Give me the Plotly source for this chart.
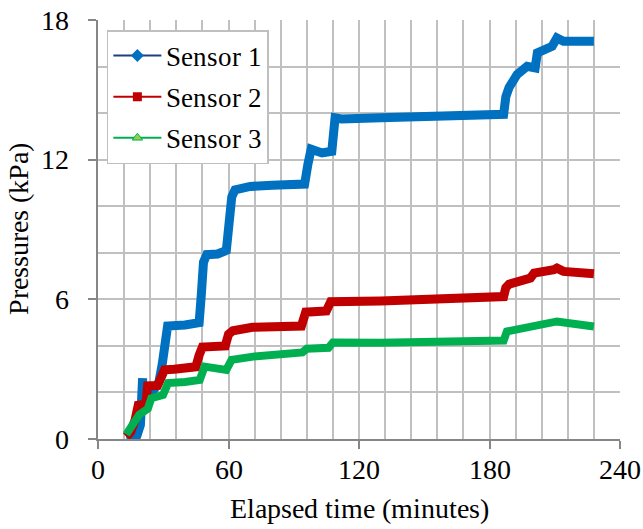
import base64
import glob
import os
import subprocess

import plotly.graph_objects as go

# Sensor 1 (blue)
t1 = [13, 16, 18, 19.5, 20.5, 20.7, 22, 25, 28, 29.5, 31, 32, 40, 46.5, 47.5, 48.5, 50, 55, 59, 60,
      61.5, 63, 70, 80, 95, 96.5, 98, 103, 107.5, 109, 112, 130, 150, 170, 186.5, 187.5, 189,
      192.7, 197.3, 201, 202, 208.8, 211, 214, 228]
p1 = [0.05, 0.1, 0.17, 0.6, 2.61, 1.55, 1.6, 2.1, 2.45, 3.2, 4.5, 4.85, 4.9, 5.0, 6.2, 7.6, 7.92, 7.95, 8.1, 9.2,
      10.4, 10.7, 10.85, 10.9, 10.95, 11.8, 12.45, 12.29, 12.36, 13.8, 13.75, 13.8, 13.85, 13.9, 13.95, 14.7, 15.1,
      15.66, 16.01, 15.94, 16.59, 16.87, 17.23, 17.09, 17.09]

# Sensor 2 (red)
t2 = [13, 15, 17, 18.5, 22, 22.8, 27.4, 29, 30.6, 35, 45, 46.5, 48, 58.5, 60, 62, 71, 93.5, 95.5,
      105, 107, 130, 150, 170, 186.5, 187.5, 189, 198.8, 200.5, 209.6, 211, 214, 228]
p2 = [0.1, 0.3, 0.8, 1.45, 1.5, 2.28, 2.3, 2.75, 2.97, 3.0, 3.1, 3.6, 3.95, 4.0, 4.5, 4.65, 4.8, 4.85, 5.45,
      5.5, 5.9, 5.93, 5.98, 6.05, 6.12, 6.5, 6.65, 6.91, 7.13, 7.27, 7.34, 7.2, 7.1]

# Sensor 3 (green)
t3 = [13, 14.5, 16.8, 19, 22.9, 24.5, 29.9, 31, 32.2, 40, 46.8, 49, 55, 59, 61.4, 71.3, 94, 96,
      106, 108, 130, 150, 170, 186.5, 188, 198.8, 201.9, 211, 228]
p3 = [0.2, 0.39, 0.82, 1.05, 1.3, 1.75, 1.89, 2.2, 2.4, 2.45, 2.54, 3.11, 3.0, 2.97, 3.4, 3.54, 3.72, 3.88,
      3.92, 4.15, 4.13, 4.18, 4.2, 4.23, 4.62, 4.83, 4.9, 5.05, 4.83]

names = ["Sensor 1", "Sensor 2", "Sensor 3"]
x_ticks = [0, 60, 120, 180, 240]
y_ticks = [0, 6, 12, 18]

FONT = "Liberation Serif"
blue, red, green = "#0070C0", "#C00000", "#00B050"


def find_font_file():
    pats = ["/usr/share/fonts/**/LiberationSerif-Regular.ttf",
            "/usr/local/share/fonts/**/LiberationSerif-Regular.ttf",
            os.path.expanduser("~/.fonts/**/LiberationSerif-Regular.ttf"),
            os.path.expanduser("~/.local/share/fonts/**/LiberationSerif-Regular.ttf")]
    for p in pats:
        hits = glob.glob(p, recursive=True)
        if hits:
            return hits[0]
    try:
        out = subprocess.run(["fc-match", "-f", "%{file}", "Liberation Serif"],
                             capture_output=True, text=True, timeout=10).stdout.strip()
        if out and os.path.exists(out) and "Serif" in out:
            return out
    except Exception:
        pass
    return None


font_b64 = ""
ff_path = find_font_file()
if ff_path:
    with open(ff_path, "rb") as fh:
        font_b64 = base64.b64encode(fh.read()).decode("ascii")

fig = go.Figure()
for t, p, c, w in [(t1, p1, blue, 9), (t2, p2, red, 9), (t3, p3, green, 8)]:
    fig.add_trace(go.Scatter(x=t, y=p, mode="lines", line=dict(color=c, width=w),
                             showlegend=False, hoverinfo="skip"))

leg = [
    (names[0], dict(color="#1F3F7A", width=2), dict(symbol="diamond", size=10, color=blue)),
    (names[1], dict(color=red, width=2), dict(symbol="square", size=9, color=red)),
    (names[2], dict(color=green, width=2), dict(symbol="triangle-up", size=9, color="#92D050",
                                                line=dict(color=green, width=1))),
]
for i, (n, ln, mk) in enumerate(leg):
    fig.add_trace(go.Scatter(x=[None], y=[None], mode="lines+markers", name=n, line=ln, marker=mk,
                             legendgroup=f"g{i}"))

grid = "#C0C0C0"
axline = "#868686"
fig.update_layout(
    width=643, height=529,
    margin=dict(l=98, r=23, t=20, b=90, autoexpand=False),
    paper_bgcolor="white", plot_bgcolor="white",
    font=dict(family=FONT, color="black", size=28),
    legend=dict(x=0.017, y=0.976, xanchor="left", yanchor="top",
                bgcolor="white", bordercolor="#BFBFBF", borderwidth=1.5,
                font=dict(size=27), itemwidth=48,
                tracegroupgap=3, traceorder="grouped"),
    xaxis=dict(range=[0, 240], tickvals=x_ticks, ticktext=[str(v) for v in x_ticks],
               automargin=False,
               showgrid=True, gridcolor=grid, gridwidth=1.5,
               minor=dict(dtick=12, showgrid=True, gridcolor=grid, gridwidth=1.5),
               showline=True, linecolor=axline, linewidth=1.5,
               ticks="outside", ticklen=8, tickcolor=axline, tickwidth=1.5,
               tickfont=dict(size=28), ticklabelstandoff=-3, zeroline=False,
               title=dict(text="Elapsed time (minutes)", font=dict(size=28), standoff=14)),
    yaxis=dict(range=[0, 18], tickvals=y_ticks, ticktext=[str(v) for v in y_ticks],
               automargin=False,
               showgrid=True, gridcolor=grid, gridwidth=1.5,
               minor=dict(dtick=2, showgrid=True, gridcolor=grid, gridwidth=1.5),
               showline=True, linecolor=axline, linewidth=1.5,
               ticks="outside", ticklen=8, tickcolor=axline, tickwidth=1.5,
               tickfont=dict(size=28), ticklabelstandoff=14, zeroline=False,
               title=dict(text="Pressures (kPa)", font=dict(size=28), standoff=4)),
)

post = """
(function(){
document.body.style.margin='0';
var gd = document.getElementById('{plot_id}');
var b64 = "__FONTB64__";
function refresh(fam){ try { Plotly.relayout(gd, {'font.family': fam}); } catch (e) {} }
if (b64.length > 0 && window.FontFace) {
  var bin = atob(b64); var n = bin.length; var u = new Uint8Array(n);
  for (var i = 0; i < n; i++) { u[i] = bin.charCodeAt(i); }
  var face = new FontFace('Liberation Serif', u.buffer);
  document.fonts.add(face);
  refresh('Liberation Serif');
  face.load().then(function(){ refresh('Liberation Serif, serif'); });
} else {
  refresh('Liberation Serif, serif');
}
})();
""".replace("__FONTB64__", font_b64)

fig.write_html("out.html", config={"displayModeBar": False}, post_script=post)
